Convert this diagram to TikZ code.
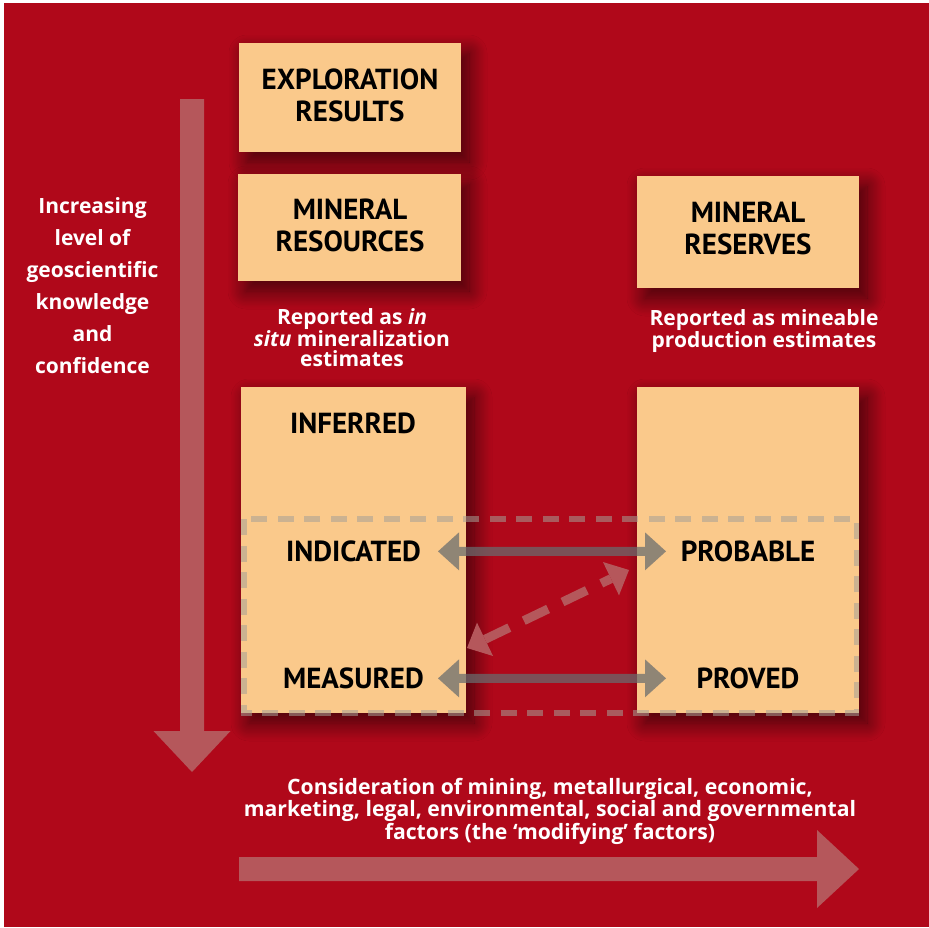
\documentclass[tikz,border=0pt]{standalone}
\usepackage{fontspec}
\setmainfont{Open Sans}
\newfontfamily\hfont{PT Sans}
\usetikzlibrary{arrows.meta,shadows.blur}
\definecolor{bgred}{RGB}{176,8,26}
\definecolor{boxfill}{RGB}{250,201,139}
\definecolor{bigarr}{RGB}{181,87,91}
\definecolor{grayarr}{RGB}{104,108,110}
\definecolor{dashgray}{RGB}{165,160,150}
\newcommand\hs{\rule{0pt}{25pt}}
\newcommand\ds{\rule[-25pt]{0pt}{25pt}}
\begin{document}
\begin{tikzpicture}[x=1pt,y=-1pt,
  panel/.style={fill=boxfill, draw=none, inner sep=0pt, outer sep=0pt,
    blur shadow={shadow xshift=8pt, shadow yshift=-10pt, shadow blur radius=18pt, shadow blur steps=14, shadow opacity=62}},
  head/.style={font=\hfont\bfseries\fontsize{29}{32}\selectfont, text=black, inner sep=0pt, align=center},
  wtext/.style={font=\bfseries\fontsize{21}{32}\selectfont, text=white, inner sep=0pt, align=center},
  wtexttight/.style={font=\bfseries\fontsize{21}{20}\selectfont, text=white, inner sep=0pt, align=center},
  bigarrow/.style={fill=bigarr, draw=none},
  grayconn/.style={draw=grayarr, line width=9pt,
    {Triangle[length=21pt,width=38pt,line width=0pt]}-{Triangle[length=21pt,width=38pt,line width=0pt]}},
  diagconn/.style={draw=bigarr, line width=9pt, dash pattern=on 27pt off 16pt,
    {Triangle[length=20pt,width=37pt,line width=0pt]}-{Triangle[length=20pt,width=37pt,line width=0pt]}},
  dashframe/.style={draw=dashgray, draw opacity=0.55, line width=5.5pt, dash pattern=on 16pt off 10.5pt}
]
\useasboundingbox (0,0) rectangle (929,927);
\fill[white] (0,0) rectangle (929,927);
\fill[bgred] (4,3) rectangle (929,927);

% big background arrows
\fill[bigarrow] (180,99) -- (204,99) -- (204,731) -- (230.5,731) -- (192,772) -- (153.5,731) -- (180,731) -- cycle;
\fill[bigarrow] (239,857) -- (817,857) -- (817,830) -- (859,869) -- (817,908) -- (817,881) -- (239,881) -- cycle;

% panels
\node[panel, minimum width=222pt, minimum height=109pt] (expbox) at (350,97.5) {};
\node[panel, minimum width=223pt, minimum height=107pt] (resbox) at (349.5,227.5) {};
\node[panel, minimum width=222pt, minimum height=112pt] (rsvbox) at (748,232) {};
\node[panel, minimum width=225pt, minimum height=326pt] (infbox) at (353.5,550) {};
\node[panel, minimum width=222pt, minimum height=326pt] (prbbox) at (748,550) {};

% dashed frame
\draw[dashframe] (244,519) rectangle (856.5,713);

% texts
\node[head] (exp) at (350,105) {\hs EXPLORATION\\RESULTS\ds};
\node[head] (res) at (350,235.5) {\hs MINERAL\\RESOURCES\ds};
\node[head] (rsv) at (748,238) {\hs MINERAL\\RESERVES\ds};
\node[head, anchor=base] (inf) at (353,433) {INFERRED};
\node[head, anchor=base] (ind) at (353.5,561.5) {INDICATED};
\node[head, anchor=base] (mea) at (353.5,688.5) {MEASURED};
\node[head, anchor=base] (prb) at (748,561.5) {PROBABLE};
\node[head, anchor=base] (prv) at (748,688.5) {PROVED};

\node[wtext] (conf) at (92.5,293) {\hs Increasing\\level of\\geoscientific\\knowledge\\and\\confidence\ds};
\node[wtexttight] (insitu) at (352,345) {\hs Reported as \textit{in}\\\textit{situ} mineralization\\estimates\ds};
\node[wtexttight] (mine) at (764,336.5) {\hs Reported as mineable\\production estimates\ds};
\node[wtexttight, font=\bfseries\fontsize{21.2}{20.5}\selectfont] (modf) at (550,817) {\hs Consideration of mining, metallurgical, economic,\\marketing, legal, environmental, social and governmental\\factors (the ‘modifying’ factors)\ds};

% connectors
\coordinate (dL) at (467,648);
\coordinate (dU) at (629,570);
\begin{scope}[transparency group, opacity=0.73]
\draw[grayconn] ([xshift=-28pt]infbox.east |- ind.east) -- ([xshift=29pt]prbbox.west |- prb.west);
\end{scope}
\begin{scope}[transparency group, opacity=0.73]
\draw[grayconn] ([xshift=-28pt]infbox.east |- mea.east) -- ([xshift=29pt]prbbox.west |- prv.west);
\end{scope}
\draw[diagconn] (dL) -- (dU);
\end{tikzpicture}
\end{document}
